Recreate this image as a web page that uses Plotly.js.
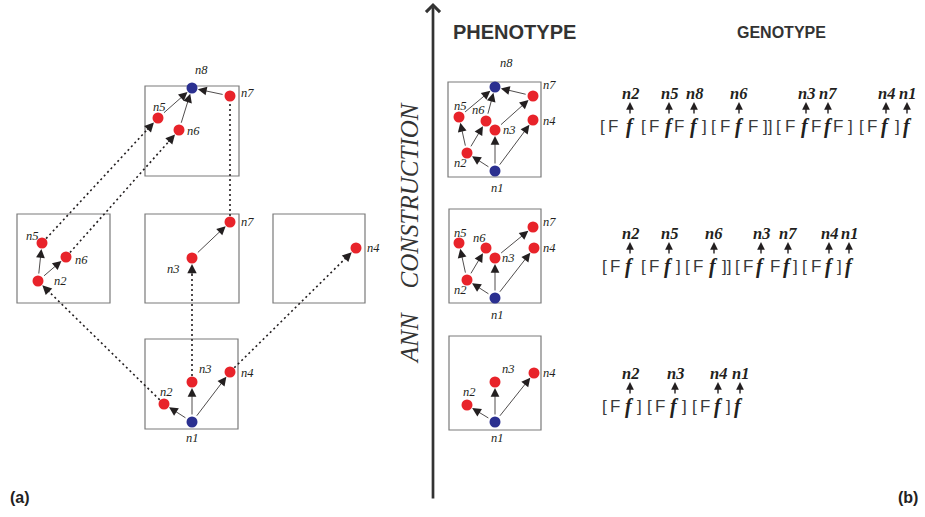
<!DOCTYPE html>
<html><head><meta charset="utf-8">
<script src="https://cdn.plot.ly/plotly-3.0.1.min.js"></script>
<style>html,body{margin:0;padding:0;background:#fff}#chart{width:925px;height:517px}</style>
</head><body><div id="chart"></div>
<script>
// ---------- boxes (x0, y0, x1, y1) ----------
const boxX0 = [145, 17, 145, 273, 145, 448, 449, 449];
const boxY0 = [86, 214, 214, 214, 339, 82, 209, 336];
const boxX1 = [239, 110, 239, 365, 238, 541, 541, 541];
const boxY1 = [176, 303, 303, 303, 429, 177, 303, 430];

// ---------- nodes ----------
const nodeKey = ['A1n8','A1n7','A1n5','A1n6',
                 'A2n5','A2n6','A2n2',
                 'A3n7','A3n3',
                 'A4n4',
                 'A5n1','A5n2','A5n3','A5n4',
                 'P1n8','P1n7','P1n5','P1n6','P1n3','P1n4','P1n2','P1n1',
                 'P2n7','P2n5','P2n6','P2n3','P2n4','P2n2','P2n1',
                 'P3n3','P3n4','P3n2','P3n1'];
const nodeX = [192,230,158,179, 42,66,38, 230,192, 356, 192,164,192,230,
               495,533,459,486,495,533,467,495, 533,459,486,495,534,467,495, 495,534,467,495];
const nodeY = [88,96,118,130, 243,257,281, 222,258, 248, 422,404,382,372,
               87,96,117,121,130,120,153,171, 227,243,248,258,248,280,298, 382,373,405,422];
const nodeKind = ['b','r','r','r', 'r','r','r', 'r','r', 'r', 'b','r','r','r',
                  'b','r','r','r','r','r','r','b', 'r','r','r','r','r','r','b', 'r','r','r','b'];
const labelX = [201,247,159,193, 32,81,60, 247,173, 373, 192,166,205,247,
                506,549,460,478,509,549,460,497, 549,460,479,508,549,460,497, 508,549,469,497];
const labelY = [70,93,107,131, 236,260,281, 222,269, 248, 438,392,369,373,
                63,85,106,110,130,121,163,188, 222,233,238,258,248,290,315, 369,373,392,438];

// ---------- solid edges ----------
const edgeFrom = ['A1n5','A1n6','A1n7','A2n2','A2n2','A3n3','A5n1','A5n1','A5n1',
                  'P1n1','P1n1','P1n1','P1n2','P1n2','P1n3','P1n5','P1n6','P1n7',
                  'P2n1','P2n1','P2n1','P2n2','P2n2','P2n3',
                  'P3n1','P3n1','P3n1'];
const edgeTo   = ['A1n8','A1n8','A1n8','A2n5','A2n6','A3n7','A5n2','A5n3','A5n4',
                  'P1n2','P1n3','P1n4','P1n5','P1n6','P1n7','P1n8','P1n8','P1n8',
                  'P2n2','P2n3','P2n4','P2n5','P2n6','P2n7',
                  'P3n2','P3n3','P3n4'];

// ---------- dotted (derivation) edges ----------
const dotFrom = ['A5n2','A5n3','A5n4','A2n5','A2n6','A3n7'];
const dotTo   = ['A2n2','A3n3','A4n4','A1n5','A1n6','A1n7'];
const dotHead = [true, true, true, true, true, false];

// ---------- genotype strings ----------
const row1Tok = ['[','F','f','[','F','f','F','f',']','[','F','f','F',']]','[','F','f','F','f','F',']','[','F','f',']','f'];
const row1TokX = [602,613,630,643,654,669,679,694,704,713,725,739,753,767,778,790,805,816,828,838,850,861,872,885,897,907];
const row1Lab = ['n2','n5','n8','n6','n3','n7','n4','n1'];
const row1LabX = [630,669,694,739,806,828,886,907];

const row2Tok = ['[','F','f','[','F','f',']','[','F','f',']]','[','F','f','F','f',']','[','F','f',']','f'];
const row2TokX = [604,615,629,643,654,668,678,687,698,713,726,737,748,760,775,787,795,804,816,829,839,849];
const row2Lab = ['n2','n5','n6','n3','n7','n4','n1'];
const row2LabX = [630,669,714,761,788,829,849];

const row3Tok = ['[','F','f',']','[','F','f',']','[','F','f',']','f'];
const row3TokX = [604,615,629,639,649,660,674,684,694,705,718,728,738];
const row3Lab = ['n2','n3','n4','n1'];
const row3LabX = [630,675,718,740];

const rowTextY = [126, 266, 406];

// ---------- build ----------
const idx = k => nodeKey.indexOf(k);
const SERIF = '"Liberation Serif", "DejaVu Serif", serif';
const SANS = '"Liberation Sans", Arial, sans-serif';
const INK = '#231f20';

const shapes = [];
for (let i = 0; i < boxX0.length; i++) {
  shapes.push({type:'rect', xref:'x', yref:'y', x0:boxX0[i], y0:boxY0[i], x1:boxX1[i], y1:boxY1[i],
    line:{color:'#7a7a7a', width:1.2}, fillcolor:'rgba(0,0,0,0)', layer:'below'});
}

const annotations = [];
// solid arrows
for (let i = 0; i < edgeFrom.length; i++) {
  const a = idx(edgeFrom[i]), b = idx(edgeTo[i]);
  annotations.push({xref:'x', yref:'y', axref:'x', ayref:'y',
    x:nodeX[b], y:nodeY[b], ax:nodeX[a], ay:nodeY[a], text:'',
    showarrow:true, arrowhead:2, arrowsize:2.2, arrowwidth:0.8, arrowcolor:INK,
    standoff:6, startstandoff:6});
}
// dotted arrows
for (let i = 0; i < dotFrom.length; i++) {
  const a = idx(dotFrom[i]), b = idx(dotTo[i]);
  const dx = nodeX[b]-nodeX[a], dy = nodeY[b]-nodeY[a];
  const L = Math.hypot(dx, dy), ux = dx/L, uy = dy/L;
  const endOff = dotHead[i] ? 12 : 6;
  shapes.push({type:'line', xref:'x', yref:'y',
    x0:nodeX[a]+ux*6, y0:nodeY[a]+uy*6, x1:nodeX[b]-ux*endOff, y1:nodeY[b]-uy*endOff,
    line:{color:INK, width:1.6, dash:'2px,3px'}});
  if (dotHead[i]) {
    annotations.push({xref:'x', yref:'y', axref:'x', ayref:'y',
      x:nodeX[b], y:nodeY[b], ax:nodeX[b]-ux*18, ay:nodeY[b]-uy*18, text:'',
      showarrow:true, arrowhead:2, arrowsize:1.7, arrowwidth:1.1, arrowcolor:INK, standoff:6});
  }
}
// node labels
for (let i = 0; i < nodeKey.length; i++) {
  annotations.push({xref:'x', yref:'y', x:labelX[i], y:labelY[i], showarrow:false,
    text:'<i>' + nodeKey[i].slice(2) + '</i>', font:{family:SERIF, size:12.5, color:INK}});
}
// genotype rows
const rows = [[row1Tok,row1TokX,row1Lab,row1LabX],[row2Tok,row2TokX,row2Lab,row2LabX],[row3Tok,row3TokX,row3Lab,row3LabX]];
rows.forEach((r, ri) => {
  const ty = rowTextY[ri];
  r[0].forEach((t, j) => {
    const isF = t === 'f';
    annotations.push({xref:'x', yref:'y', x:r[1][j], y:ty, showarrow:false,
      text: isF ? '<b><i>f</i></b>' : t,
      font: isF ? {family:SERIF, size:20, color:INK} : {family:SANS, size:17, color:'#3a3a3a'}});
  });
  r[2].forEach((t, j) => {
    annotations.push({xref:'x', yref:'y', x:r[3][j], y:ty-33, showarrow:false,
      text:'<b><i>' + t + '</i></b>', font:{family:SERIF, size:16.5, color:INK}});
    annotations.push({xref:'x', yref:'y', axref:'x', ayref:'y',
      x:r[3][j], y:ty-24, ax:r[3][j], ay:ty-11, text:'', showarrow:true,
      arrowhead:2, arrowsize:1.1, arrowwidth:1.4, arrowcolor:INK});
  });
});
// big vertical arrow
annotations.push({xref:'x', yref:'y', axref:'x', ayref:'y', x:433, y:3, ax:433, ay:500, text:'',
  showarrow:true, arrowhead:4, arrowsize:1, arrowwidth:2.7, arrowcolor:'#333'});
// titles
annotations.push({xref:'x', yref:'y', x:514, y:32, showarrow:false, text:'<b>PHENOTYPE</b>',
  font:{family:SANS, size:20, color:'#333'}});
annotations.push({xref:'x', yref:'y', x:781, y:32, showarrow:false, text:'<b>GENOTYPE</b>',
  font:{family:SANS, size:16, color:'#333'}});
annotations.push({xref:'x', yref:'y', x:409, y:233, showarrow:false, textangle:-90,
  text:'<i>ANN&nbsp;&nbsp;&nbsp;&nbsp;CONSTRUCTION</i>', font:{family:SERIF, size:25, color:'#333'}});
annotations.push({xref:'x', yref:'y', x:20, y:497, showarrow:false, text:'<b>(a)</b>',
  font:{family:SANS, size:16, color:'#222'}});
annotations.push({xref:'x', yref:'y', x:908, y:497, showarrow:false, text:'<b>(b)</b>',
  font:{family:SANS, size:16, color:'#222'}});

// node traces
const red = nodeKind.map((k,i)=>k==='r'?i:-1).filter(i=>i>=0);
const blue = nodeKind.map((k,i)=>k==='b'?i:-1).filter(i=>i>=0);
const traces = [
  {type:'scatter', mode:'markers', x:red.map(i=>nodeX[i]), y:red.map(i=>nodeY[i]), text:red.map(i=>nodeKey[i]),
   marker:{color:'#e8232a', size:11, line:{width:0}}, hoverinfo:'text', showlegend:false},
  {type:'scatter', mode:'markers', x:blue.map(i=>nodeX[i]), y:blue.map(i=>nodeY[i]), text:blue.map(i=>nodeKey[i]),
   marker:{color:'#2b3090', size:11, line:{width:0}}, hoverinfo:'text', showlegend:false}
];

const layout = {
  width:925, height:517, margin:{l:0, r:0, t:0, b:0},
  paper_bgcolor:'#fff', plot_bgcolor:'#fff',
  xaxis:{range:[0,925], visible:false, fixedrange:true},
  yaxis:{range:[517,0], visible:false, fixedrange:true},
  shapes, annotations, showlegend:false
};
Plotly.newPlot('chart', traces, layout, {staticPlot:true, displayModeBar:false});
</script>
</body></html>
